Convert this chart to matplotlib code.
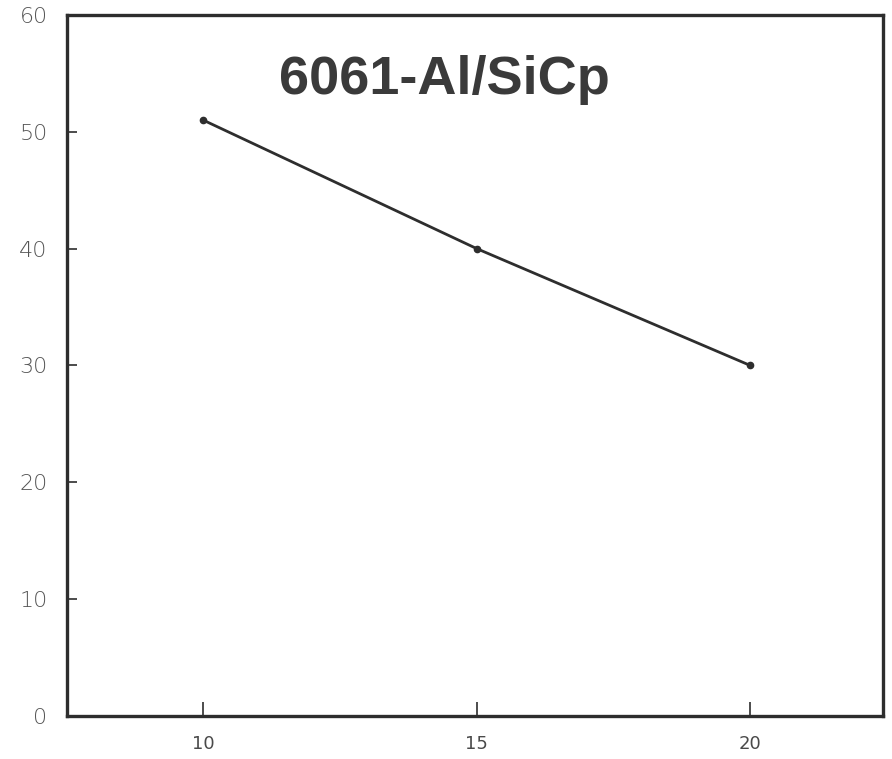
import matplotlib.pyplot as plt

# ===== DATA =====
sic_pct = [10, 15, 20]
values = [51, 40, 30]
x_ticks = [10, 15, 20]
y_ticks = [0, 10, 20, 30, 40, 50, 60]
title = "6061-Al/SiCp"

# ===== SETUP PLOT =====
fig = plt.figure(figsize=(8.92, 7.59), dpi=100)
ax = fig.add_axes([0.0751, 0.0567, 0.915, 0.9236])

ink = '#2e2e2e'
ax.plot(sic_pct, values, color=ink, linewidth=2.0, marker='o', markersize=4.5)

ax.set_xlim(7.51, 22.43)
ax.set_ylim(0, 60)
ax.set_xticks(x_ticks)
ax.set_yticks(y_ticks)
ax.set_xticklabels([str(v) for v in x_ticks], fontsize=13)
ax.set_yticklabels([str(v) for v in y_ticks], fontsize=16,
                   family='DejaVu Sans', fontweight='light')
ax.tick_params(axis='x', direction='in', length=10, width=1.2, colors=ink,
               labelcolor='#4a4a4a', pad=14)
ax.tick_params(axis='y', direction='in', length=7, width=1.2, colors=ink,
               labelcolor='#555555', pad=14)

for s in ax.spines.values():
    s.set_linewidth(2.4)
    s.set_color(ink)

# title label inside the frame
ax.text(0.462, 0.907, title, transform=ax.transAxes, ha='center', va='center',
        fontsize=39, fontweight='bold', color='#3a3a3a', family='Liberation Sans')

fig.savefig('out.png', dpi=100)
